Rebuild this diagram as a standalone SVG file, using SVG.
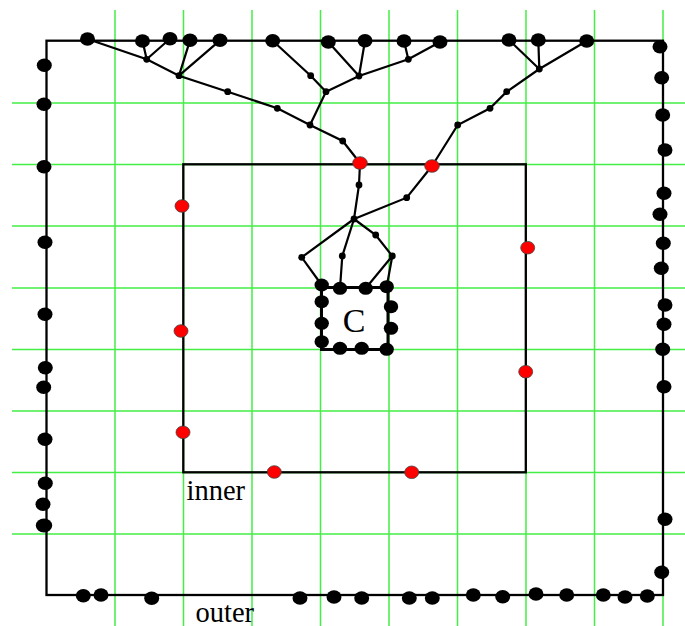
<svg xmlns="http://www.w3.org/2000/svg" width="685" height="626" viewBox="0 0 685 626">
<style>
.g{stroke:#44ee44;stroke-width:1.5;fill:none}
.e{stroke:#000;stroke-width:2.2;fill:none;stroke-linecap:round}
.box{stroke:#000;stroke-width:2.3;fill:none}
.b{fill:#000}
.s{fill:#000}
.r{fill:#ff0000;stroke:#444;stroke-width:0.8}
.t{font-family:"Liberation Serif","Times New Roman",serif;fill:#000}
</style>
<rect width="685" height="626" fill="#fff"/>
<g id="grid" class="g">
<path d="M115 10V626M183.5 10V626M252 10V626M320.5 10V626M389 10V626M457.5 10V626M526 10V626M594.5 10V626M663 10V626"/>
<path d="M12 103H685M12 164.5H685M12 226H685M12 288H685M12 349.5H685M12 411H685M12 472.5H685M12 534H685"/>
</g>
<g id="outer"><rect class="box" x="46.5" y="40.7" width="616.5" height="554.3"/></g>
<g id="inner"><rect class="box" x="183.3" y="164.3" width="342.5" height="308"/></g>
<g id="Cbox"><rect x="321.5" y="287.5" width="66.5" height="62" fill="none" stroke="#000" stroke-width="3"/></g>
<g id="connectors" class="e">
<path d="M87.5 39L146.7 59.3L179 75.7L227.7 91.7L277.3 108.3L310 125L342.7 141L360 163"/>
<path d="M142.5 41L146.7 59.3M170 38.7L146.7 59.3M190 40.3L179 75.7M220 40.3L179 75.7"/>
<path d="M272.7 40.7L310.7 75.7L326 91.7L310 125M326 91.7L359 76L408.3 59.3M328.3 42L359 76M365 40.7L359 76M408.3 59.3L404 41M408.3 59.3L440 42"/>
<path d="M509 40L539.3 69M538.3 40L539.3 69M586.7 41L539.3 69L506.7 91.7L490 108.3L457.7 125L432 166"/>
<path d="M360 163L359 185L354 219M432 166L406.7 197.7L354 219"/>
<path d="M354 219L301.7 257.3L321.7 285M354 219L342.3 256L340 288.3M354 219L375.7 235L392.3 256L365.7 288.3M392.3 256L386.7 286.7"/>
</g>
<g id="top-dots">
<g id="T1"><ellipse class="b" cx="87.5" cy="39" rx="7.5" ry="6.7"/></g>
<g id="T2"><ellipse class="b" cx="142.5" cy="41" rx="7.5" ry="6.7"/></g>
<g id="T3"><ellipse class="b" cx="170" cy="38.7" rx="7.5" ry="6.7"/></g>
<g id="T4"><ellipse class="b" cx="190" cy="40.3" rx="7.5" ry="6.7"/></g>
<g id="T5"><ellipse class="b" cx="220" cy="40.3" rx="7.5" ry="6.7"/></g>
<g id="T6"><ellipse class="b" cx="272.7" cy="40.7" rx="7.5" ry="6.7"/></g>
<g id="T7"><ellipse class="b" cx="328.3" cy="42" rx="7.5" ry="6.7"/></g>
<g id="T8"><ellipse class="b" cx="365" cy="40.7" rx="7.5" ry="6.7"/></g>
<g id="T9"><ellipse class="b" cx="404" cy="41" rx="7.5" ry="6.7"/></g>
<g id="T10"><ellipse class="b" cx="440" cy="42" rx="7.5" ry="6.7"/></g>
<g id="T11"><ellipse class="b" cx="509" cy="40" rx="7.5" ry="6.7"/></g>
<g id="T12"><ellipse class="b" cx="538.3" cy="40" rx="7.5" ry="6.7"/></g>
<g id="T13"><ellipse class="b" cx="586.7" cy="41" rx="7.5" ry="6.7"/></g>
</g>
<g id="tree-nodes">
<g id="a1"><circle class="s" cx="146.7" cy="59.3" r="3.4"/></g>
<g id="a2"><circle class="s" cx="179" cy="75.7" r="3.4"/></g>
<g id="a3"><circle class="s" cx="227.7" cy="91.7" r="3.4"/></g>
<g id="a4"><circle class="s" cx="277.3" cy="108.3" r="3.4"/></g>
<g id="a5"><circle class="s" cx="310" cy="125" r="3.4"/></g>
<g id="a6"><circle class="s" cx="342.7" cy="141" r="3.4"/></g>
<g id="b1"><circle class="s" cx="310.7" cy="75.7" r="3.4"/></g>
<g id="b2"><circle class="s" cx="326" cy="91.7" r="3.4"/></g>
<g id="b3"><circle class="s" cx="359" cy="76" r="3.4"/></g>
<g id="b4"><circle class="s" cx="408.3" cy="59.3" r="3.4"/></g>
<g id="c1"><circle class="s" cx="539.3" cy="69" r="3.4"/></g>
<g id="c2"><circle class="s" cx="506.7" cy="91.7" r="3.4"/></g>
<g id="c3"><circle class="s" cx="490" cy="108.3" r="3.4"/></g>
<g id="c4"><circle class="s" cx="457.7" cy="125" r="3.4"/></g>
<g id="d1"><circle class="s" cx="359" cy="185" r="3.4"/></g>
<g id="hub"><circle class="s" cx="354" cy="219" r="3.4"/></g>
<g id="d2"><circle class="s" cx="406.7" cy="197.7" r="3.4"/></g>
<g id="e1"><circle class="s" cx="301.7" cy="257.3" r="3.4"/></g>
<g id="e2"><circle class="s" cx="342.3" cy="256" r="3.4"/></g>
<g id="e3"><circle class="s" cx="375.7" cy="235" r="3.4"/></g>
<g id="e4"><circle class="s" cx="392.3" cy="256" r="3.4"/></g>
</g>
<g id="red-dots">
<g id="R1"><ellipse class="r" cx="360" cy="163" rx="7.3" ry="6.3"/></g>
<g id="R2"><ellipse class="r" cx="432" cy="166" rx="7.3" ry="6.3"/></g>
<g id="R3"><ellipse class="r" cx="182" cy="206" rx="7" ry="6.3"/></g>
<g id="R4"><ellipse class="r" cx="181" cy="331" rx="7" ry="6.3"/></g>
<g id="R5"><ellipse class="r" cx="183" cy="432.3" rx="7" ry="6.3"/></g>
<g id="R6"><ellipse class="r" cx="274.3" cy="472" rx="7" ry="6.3"/></g>
<g id="R7"><ellipse class="r" cx="411.7" cy="472.3" rx="7" ry="6.3"/></g>
<g id="R8"><ellipse class="r" cx="527.7" cy="247.7" rx="7" ry="6.3"/></g>
<g id="R9"><ellipse class="r" cx="525.7" cy="371.7" rx="7" ry="6.3"/></g>
</g>
<g id="C-dots">
<g id="C1"><ellipse class="b" cx="321.7" cy="285" rx="7.2" ry="6.5"/></g>
<g id="C2"><ellipse class="b" cx="340" cy="288.3" rx="7.2" ry="6.5"/></g>
<g id="C3"><ellipse class="b" cx="365.7" cy="288.3" rx="7.2" ry="6.5"/></g>
<g id="C4"><ellipse class="b" cx="386.7" cy="286.7" rx="7.2" ry="6.5"/></g>
<g id="C5"><ellipse class="b" cx="321.7" cy="301.7" rx="7.2" ry="6.5"/></g>
<g id="C6"><ellipse class="b" cx="321.7" cy="323.3" rx="7.2" ry="6.5"/></g>
<g id="C7"><ellipse class="b" cx="321.7" cy="341.7" rx="7.2" ry="6.5"/></g>
<g id="C8"><ellipse class="b" cx="340" cy="348.3" rx="7.2" ry="6.5"/></g>
<g id="C9"><ellipse class="b" cx="361.7" cy="348.3" rx="7.2" ry="6.5"/></g>
<g id="C10"><ellipse class="b" cx="386.7" cy="349.3" rx="7.2" ry="6.5"/></g>
<g id="C11"><ellipse class="b" cx="391" cy="306.7" rx="7.2" ry="6.5"/></g>
<g id="C12"><ellipse class="b" cx="391" cy="328.3" rx="7.2" ry="6.5"/></g>
</g>
<g id="left-dots">
<g id="L1"><ellipse class="b" cx="44.3" cy="65.3" rx="7.5" ry="6.7"/></g>
<g id="L2"><ellipse class="b" cx="44" cy="104.3" rx="7.5" ry="6.7"/></g>
<g id="L3"><ellipse class="b" cx="44" cy="166.7" rx="7.5" ry="6.7"/></g>
<g id="L4"><ellipse class="b" cx="45" cy="242.3" rx="7.5" ry="6.7"/></g>
<g id="L5"><ellipse class="b" cx="45" cy="314.3" rx="7.5" ry="6.7"/></g>
<g id="L6"><ellipse class="b" cx="45.3" cy="367.7" rx="7.5" ry="6.7"/></g>
<g id="L7"><ellipse class="b" cx="43.7" cy="387.3" rx="7.5" ry="6.7"/></g>
<g id="L8"><ellipse class="b" cx="45" cy="439.3" rx="7.5" ry="6.7"/></g>
<g id="L9"><ellipse class="b" cx="45.3" cy="483.3" rx="7.5" ry="6.7"/></g>
<g id="L10"><ellipse class="b" cx="43" cy="504.3" rx="7.5" ry="6.7"/></g>
<g id="L11"><ellipse class="b" cx="44" cy="525.5" rx="8.2" ry="7"/></g>
</g>
<g id="right-dots">
<g id="Q1"><ellipse class="b" cx="660" cy="46.7" rx="7.5" ry="6.7"/></g>
<g id="Q2"><ellipse class="b" cx="661.7" cy="77.7" rx="7.5" ry="6.7"/></g>
<g id="Q3"><ellipse class="b" cx="662.7" cy="115" rx="7.5" ry="6.7"/></g>
<g id="Q4"><ellipse class="b" cx="665" cy="150" rx="7.5" ry="6.7"/></g>
<g id="Q5"><ellipse class="b" cx="664" cy="193.3" rx="7.5" ry="6.7"/></g>
<g id="Q6"><ellipse class="b" cx="660" cy="214.3" rx="7.5" ry="6.7"/></g>
<g id="Q7"><ellipse class="b" cx="663.3" cy="243.3" rx="7.5" ry="6.7"/></g>
<g id="Q8"><ellipse class="b" cx="661.3" cy="268.3" rx="7.5" ry="6.7"/></g>
<g id="Q9"><ellipse class="b" cx="665" cy="305" rx="7.5" ry="6.7"/></g>
<g id="Q10"><ellipse class="b" cx="664" cy="324.3" rx="7.5" ry="6.7"/></g>
<g id="Q11"><ellipse class="b" cx="662.7" cy="349.3" rx="7.5" ry="6.7"/></g>
<g id="Q12"><ellipse class="b" cx="664" cy="386.7" rx="7.5" ry="6.7"/></g>
<g id="Q13"><ellipse class="b" cx="665" cy="519.3" rx="7.5" ry="6.7"/></g>
<g id="Q14"><ellipse class="b" cx="661.7" cy="572.3" rx="7.5" ry="6.7"/></g>
</g>
<g id="bottom-dots">
<g id="B1"><ellipse class="b" cx="83.3" cy="595.7" rx="7.5" ry="6.7"/></g>
<g id="B2"><ellipse class="b" cx="101" cy="595" rx="7.5" ry="6.7"/></g>
<g id="B3"><ellipse class="b" cx="151.7" cy="598.3" rx="7.5" ry="6.7"/></g>
<g id="B4"><ellipse class="b" cx="300" cy="598" rx="7.5" ry="6.7"/></g>
<g id="B5"><ellipse class="b" cx="334" cy="597" rx="7.5" ry="6.7"/></g>
<g id="B6"><ellipse class="b" cx="361.7" cy="598" rx="7.5" ry="6.7"/></g>
<g id="B7"><ellipse class="b" cx="409.3" cy="598" rx="7.5" ry="6.7"/></g>
<g id="B8"><ellipse class="b" cx="432.3" cy="598" rx="7.5" ry="6.7"/></g>
<g id="B9"><ellipse class="b" cx="473.3" cy="595" rx="7.5" ry="6.7"/></g>
<g id="B10"><ellipse class="b" cx="502.7" cy="596.7" rx="7.5" ry="6.7"/></g>
<g id="B11"><ellipse class="b" cx="536" cy="594" rx="7.5" ry="6.7"/></g>
<g id="B12"><ellipse class="b" cx="566.7" cy="595" rx="7.5" ry="6.7"/></g>
<g id="B13"><ellipse class="b" cx="603.3" cy="595" rx="7.5" ry="6.7"/></g>
<g id="B14"><ellipse class="b" cx="625" cy="597" rx="7.5" ry="6.7"/></g>
<g id="B15"><ellipse class="b" cx="647.3" cy="596" rx="7.5" ry="6.7"/></g>
</g>
<g id="labels">
<text class="t" x="354" y="332" font-size="34" text-anchor="middle">C</text>
<text class="t" x="186.5" y="500" font-size="28.5">inner</text>
<text class="t" x="195.5" y="621.5" font-size="28.5">outer</text>
</g>
</svg>
